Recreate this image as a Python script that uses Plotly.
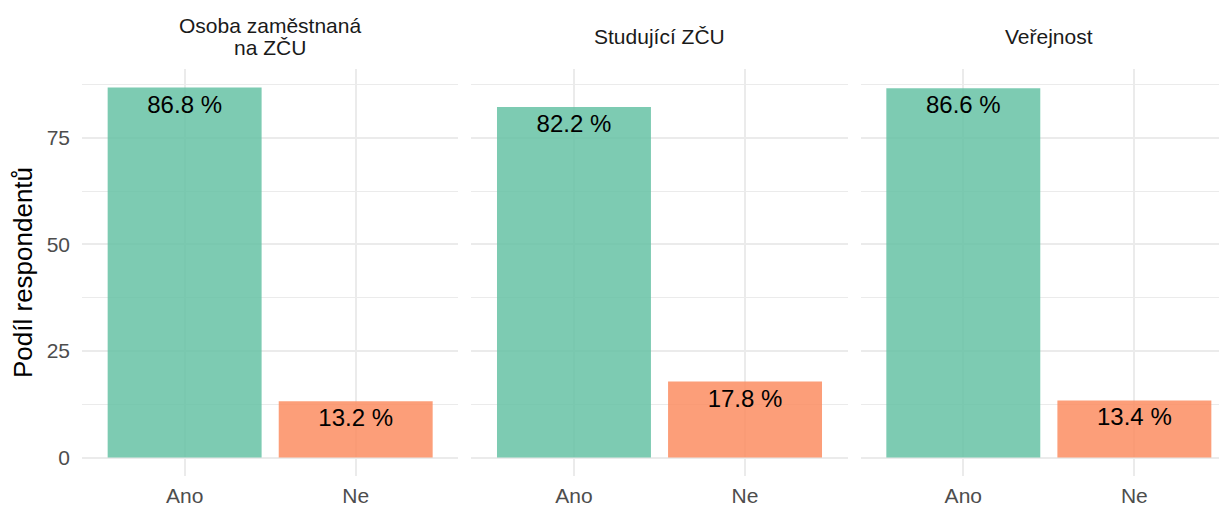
import plotly.graph_objects as go

# ---- data ----
groups = ["Osoba zaměstnaná\nna ZČU", "Studující ZČU", "Veřejnost"]
answers = ["Ano", "Ne"]
ano_share = [86.8, 82.2, 86.6]
ne_share = [13.2, 17.8, 13.4]
y_ticks = [0, 25, 50, 75]
y_title = "Podíl respondentů"

# ---- style ----
OFF = 8  # page body margin
W, H = 1227 - OFF, 506 - OFF
ML, MT = 82.4 - OFF, 69 - OFF
plot_h = 476.5 - 69
MB = H - MT - plot_h
FONT = "Liberation Sans, Arial, Helvetica, sans-serif"
colors = ["rgba(102,194,165,0.85)", "rgba(252,141,98,0.85)"]
GRID = "#EBEBEB"

plot_w = W - ML
panel_px = 376.2
gap_px = 13.0
unit = panel_px / 2.2

fig = go.Figure()

ymax = max(ano_share + ne_share)
yrange = [-0.05 * ymax, ymax * 1.05]

for i, g in enumerate(groups):
    vals = [ano_share[i], ne_share[i]]
    xa = "x" if i == 0 else f"x{i+1}"
    ya = "y" if i == 0 else f"y{i+1}"
    fig.add_trace(go.Bar(
        x=answers, y=vals, xaxis=xa, yaxis=ya,
        width=0.9,
        marker=dict(color=colors, line=dict(width=0)),
        text=[f"{v:.1f} %" for v in vals],
        textposition="inside", insidetextanchor="end",
        textangle=0,
        textfont=dict(color="black", size=24, family=FONT),
        constraintext="none",
        showlegend=False, hoverinfo="skip",
    ))
    left = i * (panel_px + gap_px)
    right_full = left + panel_px
    right = min(right_full, plot_w)
    xr = [-0.6, -0.6 + (right - left) / unit]
    ax_x = dict(
        domain=[left / plot_w, right / plot_w],
        range=xr, type="category",
        showgrid=True, gridcolor=GRID, gridwidth=2,
        zeroline=False, showline=False, ticks="",
        tickfont=dict(size=21, color="#4D4D4D", family=FONT),
        ticklabelstandoff=5,
        automargin=False,
        anchor=ya, fixedrange=True,
    )
    ax_y = dict(
        range=yrange, tickvals=y_ticks,
        showgrid=True, gridcolor=GRID, gridwidth=2,
        minor=dict(tick0=12.5, dtick=25, showgrid=True, gridcolor=GRID, gridwidth=1.1, ticks=""),
        zeroline=False, showline=False, ticks="",
        tickfont=dict(size=21, color="#4D4D4D", family=FONT),
        showticklabels=(i == 0),
        automargin=False,
        anchor=xa, fixedrange=True,
    )
    if i == 0:
        ax_y["title"] = dict(text=y_title, font=dict(size=26, color="black", family=FONT), standoff=10)
        ax_y["ticklabelstandoff"] = 11
    fig.update_layout(**{("xaxis" if i == 0 else f"xaxis{i+1}"): ax_x,
                         ("yaxis" if i == 0 else f"yaxis{i+1}"): ax_y})

    # strip label
    cx = ((left + right_full) / 2) / plot_w
    lines = g.split("\n")
    line_h = 22.5
    center_px = 36.5 - OFF
    n = len(lines)
    for k, ln in enumerate(lines):
        ypx = center_px + (k - (n - 1) / 2) * line_h
        fig.add_annotation(
            x=cx, y=1 + (MT - ypx) / plot_h, xref="paper", yref="paper",
            text=ln, showarrow=False, xanchor="center", yanchor="middle",
            font=dict(size=21, color="#1A1A1A", family=FONT),
        )

fig.update_layout(
    width=W, height=H,
    margin=dict(l=ML, r=0, t=MT, b=MB, pad=0, autoexpand=False),
    paper_bgcolor="white", plot_bgcolor="white",
    bargap=0.1,
    font=dict(family=FONT),
)

fig.write_html("out.html")
